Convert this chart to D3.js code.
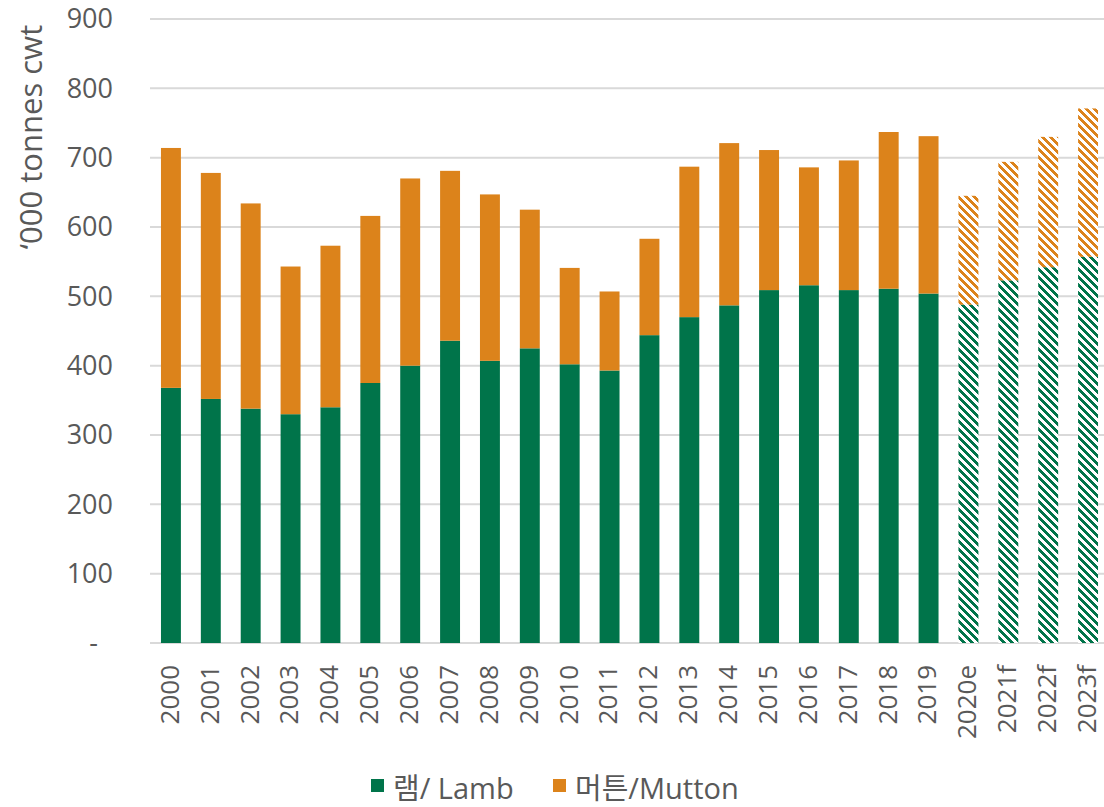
<!DOCTYPE html>
<html>
<head>
<meta charset="utf-8">
<script src="https://cdn.jsdelivr.net/npm/d3@7"></script>
<style>
  body { margin: 0; background: #fff; }
  text { font-family: "Open Sans", "Noto Sans CJK KR", sans-serif; fill: #595959; }
</style>
</head>
<body>
<div id="chart"></div>
<script>
// years / labels along the bottom
var years = ["2000", "2001", "2002", "2003", "2004", "2005", "2006", "2007", "2008", "2009",
    "2010", "2011", "2012", "2013", "2014", "2015", "2016", "2017", "2018", "2019",
    "2020e", "2021f", "2022f", "2023f"];
// '000 tonnes cwt
var lamb = [368, 352, 338, 330, 340, 375, 400, 436, 407, 425,
    402, 393, 444, 470, 487, 509, 516, 509, 511, 504,
    488, 523, 542, 557];
var mutton = [346, 326, 296, 213, 233, 241, 270, 245, 240, 200,
    139, 114, 139, 217, 234, 202, 170, 187, 226, 227,
    157, 171, 188, 214];
// estimate / forecast columns get the hatched fill
var forecastYears = ["2020e", "2021f", "2022f", "2023f"];
var yTicks = [0, 100, 200, 300, 400, 500, 600, 700, 800, 900];
var seriesNames = ["램/ Lamb", "머튼/Mutton"];

var W = 1104, H = 807;
var margin = { top: 19, right: 0, bottom: 164, left: 151 };
var green = "#00744A", orange = "#DC831B";

var svg = d3.select("#chart").append("svg")
    .attr("width", W)
    .attr("height", H);

var defs = svg.append("defs");
// pixel-ish wide downward diagonal pattern like Excel
function hatch(id, color) {
    var p = defs.append("pattern")
        .attr("id", id)
        .attr("patternUnits", "userSpaceOnUse")
        .attr("width", 8)
        .attr("height", 8);
    p.append("rect").attr("width", 8).attr("height", 8).attr("fill", "#fff");
    for (var r = 0; r < 8; r++) {
        for (var c = 0; c < 4; c++) {
            p.append("rect")
                .attr("x", (r + c) % 8)
                .attr("y", r)
                .attr("width", 1)
                .attr("height", 1)
                .attr("fill", color);
        }
    }
}
hatch("hatchLamb", green);
hatch("hatchMutton", orange);

var x = d3.scaleBand()
    .domain(years)
    .range([margin.left, 1108])
    .paddingInner(0.5)
    .paddingOuter(0.25);

var y = d3.scaleLinear()
    .domain([0, 900])
    .range([643, margin.top]);

// gridlines
svg.append("g")
    .selectAll("line")
    .data(yTicks)
    .enter().append("line")
    .attr("x1", margin.left - 1)
    .attr("x2", W)
    .attr("y1", function(d) { return y(d); })
    .attr("y2", function(d) { return y(d); })
    .attr("stroke", "#D9D9D9")
    .attr("stroke-width", 2);

var data = years.map(function(yr, i) {
    return { year: yr, lamb: lamb[i], mutton: mutton[i] };
});
var stack = d3.stack().keys(["lamb", "mutton"]);
var layers = stack(data);

svg.append("g")
    .selectAll("g")
    .data(layers)
    .enter().append("g")
    .each(function(layer) {
        d3.select(this).selectAll("rect")
            .data(layer)
            .enter().append("rect")
            .attr("x", function(d) { return x(d.data.year); })
            .attr("width", x.bandwidth())
            .attr("y", function(d) { return y(d[1]); })
            .attr("height", function(d) { return y(d[0]) - y(d[1]); })
            .attr("fill", function(d) {
                var fc = forecastYears.indexOf(d.data.year) >= 0;
                if (layer.key == "lamb") return fc ? "url(#hatchLamb)" : green;
                return fc ? "url(#hatchMutton)" : orange;
            });
    });

// y tick labels
svg.append("g")
    .selectAll("text")
    .data(yTicks)
    .enter().append("text")
    .attr("x", function(d) { return d == 0 ? 98 : 113; })
    .attr("y", function(d) { return y(d); })
    .attr("dy", "0.35em")
    .attr("text-anchor", "end")
    .style("font-size", "27px")
    .text(function(d) { return d == 0 ? "-" : d; });

// x tick labels, rotated
svg.append("g")
    .selectAll("text")
    .data(years)
    .enter().append("text")
    .attr("transform", function(d) {
        return "translate(" + (x(d) + x.bandwidth() / 2) + ",665) rotate(-90)";
    })
    .attr("dy", "0.3em")
    .attr("text-anchor", "end")
    .style("font-size", "26px")
    .text(function(d) { return d; });

// y axis title
svg.append("text")
    .attr("transform", "translate(31,137) rotate(-90)")
    .attr("dy", "0.35em")
    .attr("text-anchor", "middle")
    .style("font-size", "31px")
    .text("\u2018000 tonnes cwt");

// legend
var legend = svg.append("g");
var lx = [371, 553];
seriesNames.forEach(function(name, i) {
    legend.append("rect")
        .attr("x", lx[i])
        .attr("y", 779)
        .attr("width", 13)
        .attr("height", 13)
        .attr("fill", i == 0 ? green : orange);
    legend.append("text")
        .attr("x", lx[i] + 22)
        .attr("y", 789)
        .attr("dy", "0.35em")
        .style("font-size", "29px")
        .text(name);
});
</script>
</body>
</html>
